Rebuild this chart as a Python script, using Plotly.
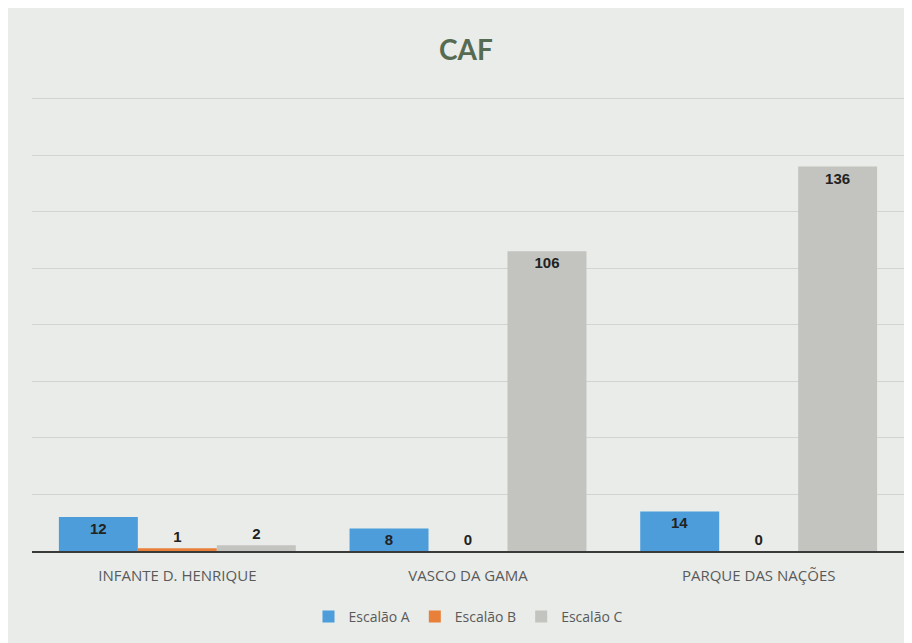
import plotly.graph_objects as go

categories = ["INFANTE D. HENRIQUE", "VASCO DA GAMA", "PARQUE DAS NAÇÕES"]
series_names = ["Escalão A", "Escalão B", "Escalão C"]
escalao_a = [12, 8, 14]
escalao_b = [1, 0, 0]
escalao_c = [2, 106, 136]
colors = ["#4d9ddb", "#e8803a", "#c3c4c0"]

label_font = dict(family="Liberation Sans, Arial", size=15, color="#222222", weight="bold")

fig = go.Figure()
for name, vals, col in zip(series_names, [escalao_a, escalao_b, escalao_c], colors):
    fig.add_trace(go.Bar(
        x=categories, y=vals, name=name,
        marker=dict(color=col, line=dict(width=0)),
        text=[str(v) for v in vals],
        textposition=["inside" if v > 5 else "outside" for v in vals],
        insidetextanchor="end",
        textangle=0,
        constraintext="none",
        cliponaxis=False,
        textfont=label_font,
        outsidetextfont=label_font,
        insidetextfont=label_font,
    ))

fig.update_layout(
    width=904, height=635,
    barmode="group", bargap=0.185, bargroupgap=0,
    paper_bgcolor="#e9ece9", plot_bgcolor="#e9ece9",
    margin=dict(l=24, r=8, t=89, b=92),
    title=dict(text="<b>CAF</b>", x=0.5066, xanchor="center", y=0.934, yanchor="middle",
               font=dict(family="Lato, Open Sans", size=28, color="#566b52")),
    xaxis=dict(showline=True, linecolor="#3a3a3a", linewidth=2, ticks="",
               tickfont=dict(family="Open Sans, Liberation Sans", size=15, color="#5a5a5a"),
               ticklabelstandoff=10),
    yaxis=dict(range=[0, 160.6], dtick=20, showticklabels=False, showgrid=True,
               gridcolor="#d1d4d1", gridwidth=1, zeroline=False),
    legend=dict(orientation="h", x=0.5, xanchor="center", y=-0.145, yanchor="middle",
                font=dict(family="Open Sans, Liberation Sans", size=14, color="#5a5a5a"),
                bgcolor="rgba(0,0,0,0)", itemwidth=30),
)

fig.write_html("out.html")
